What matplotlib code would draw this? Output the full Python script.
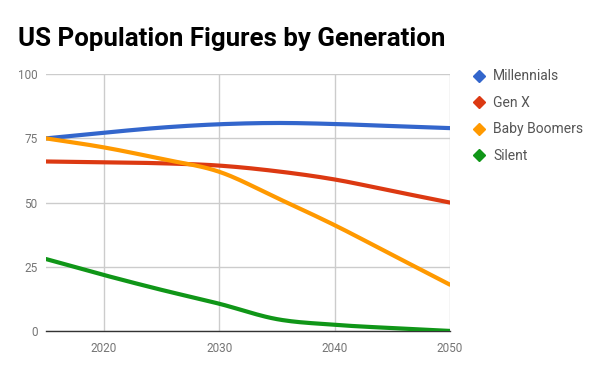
import matplotlib
matplotlib.use("Agg")
import matplotlib.pyplot as plt
from matplotlib.lines import Line2D
import numpy as np

years = [2015, 2020, 2025, 2030, 2035, 2040, 2045, 2050]
millennials = [75, 77.2, 79.2, 80.5, 81, 80.6, 79.8, 79]
gen_x = [66, 65.7, 65.3, 64.4, 62.2, 59, 54.5, 50]
baby_boomers = [75, 71.5, 67, 62, 51.8, 41.2, 29.6, 18]
silent = [28, 21.8, 16, 10.6, 4.6, 2.4, 1.1, 0]

series = [
    ("Millennials", millennials, "#3366CC"),
    ("Gen X", gen_x, "#DC3912"),
    ("Baby Boomers", baby_boomers, "#FF9900"),
    ("Silent", silent, "#109618"),
]


def smooth(x, y, n=20):
    # cubic hermite through the points (drawing only)
    x = np.asarray(x, float)
    y = np.asarray(y, float)
    m = np.gradient(y, x)
    xs, ys = [], []
    for i in range(len(x) - 1):
        h = x[i + 1] - x[i]
        t = np.linspace(0, 1, n, endpoint=False)
        h00 = 2 * t**3 - 3 * t**2 + 1
        h10 = t**3 - 2 * t**2 + t
        h01 = -2 * t**3 + 3 * t**2
        h11 = t**3 - t**2
        xs.append(x[i] + t * h)
        ys.append(h00 * y[i] + h10 * h * m[i] + h01 * y[i + 1] + h11 * h * m[i + 1])
    xs.append([x[-1]])
    ys.append([y[-1]])
    return np.concatenate(xs), np.concatenate(ys)


plt.rcParams['font.family'] = ['Roboto', 'DejaVu Sans']

fig = plt.figure(figsize=(6, 3.71), dpi=100)
ax = fig.add_axes([0.0767, 0.108, 0.6733, 0.692])

for name, vals, color in series:
    sx, sy = smooth(years, vals)
    ax.plot(sx, sy, color=color, lw=3, solid_capstyle='round', zorder=3)

ax.set_xlim(2015, 2050)
ax.set_ylim(0, 100)
ax.set_xticks([2020, 2030, 2040, 2050])
ax.set_yticks([0, 25, 50, 75, 100])
ax.grid(True, color="#cccccc", lw=1)
ax.set_axisbelow(True)
for s in ["top", "right", "left"]:
    ax.spines[s].set_visible(False)
ax.spines["bottom"].set_color("#333333")
ax.spines["bottom"].set_linewidth(1)
ax.tick_params(length=0, labelsize=8.5, labelcolor="#757575", pad=8)
ax.tick_params(axis="y", pad=6)

fig.text(0.03, 0.875, "US Population Figures by Generation", fontsize=18.6,
         fontweight="bold", color="#000000")

handles = [Line2D([], [], marker="D", ls="none", color=c, markersize=6.5)
           for _, _, c in series]
labels = [n for n, _, _ in series]
ax.legend(handles, labels, loc="upper left", bbox_to_anchor=(0.778, 0.828),
          bbox_transform=fig.transFigure, frameon=False, fontsize=10,
          labelcolor="#555555", handlelength=1.0, handletextpad=0.5,
          labelspacing=0.9, borderaxespad=0)

fig.savefig("out.png", dpi=100)
